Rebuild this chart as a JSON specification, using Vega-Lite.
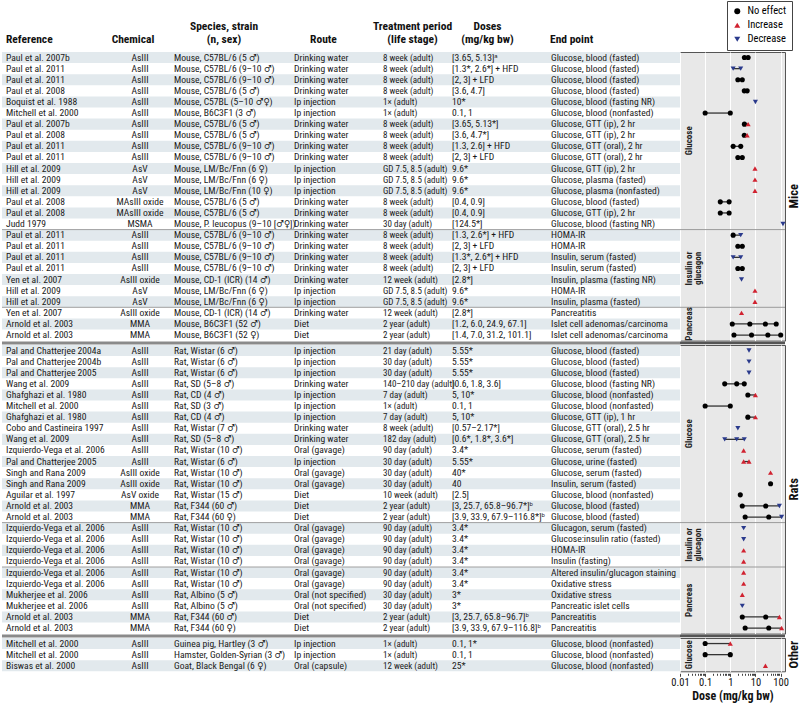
{
"$schema": "https://vega.github.io/schema/vega-lite/v6.json",
"padding": 0,
"background": "white",
"config": {
  "font": "Liberation Sans Narrow, Roboto Condensed, DejaVu Sans Condensed, Arial Narrow, sans-serif",
  "view": {"stroke": null},
  "text": {"fontSize": 9.6, "color": "#1a1a1a"},
  "title": {"fontSize": 11.5, "fontWeight": "bold", "color": "#111", "offset": 7, "lineHeight": 13, "frame": "group"}
},
"datasets": {
"rows": [
{"id":1,"grp":"Mice","sub":"Glucose","ref":"Paul et al. 2007b","chem":"AsIII","sp":"Mouse, C57BL/6 (5 ♂)","route":"Drinking water","per":"8 week (adult)","dose":"[3.65, 5.13]ᵃ","ep":"Glucose, blood (fasted)"},
{"id":2,"grp":"Mice","sub":"Glucose","ref":"Paul et al. 2011","chem":"AsIII","sp":"Mouse, C57BL/6 (9–10 ♂)","route":"Drinking water","per":"8 week (adult)","dose":"[1.3*, 2.6*] + HFD","ep":"Glucose, blood (fasted)"},
{"id":3,"grp":"Mice","sub":"Glucose","ref":"Paul et al. 2011","chem":"AsIII","sp":"Mouse, C57BL/6 (9–10 ♂)","route":"Drinking water","per":"8 week (adult)","dose":"[2, 3] + LFD","ep":"Glucose, blood (fasted)"},
{"id":4,"grp":"Mice","sub":"Glucose","ref":"Paul et al. 2008","chem":"AsIII","sp":"Mouse, C57BL/6 (5 ♂)","route":"Drinking water","per":"8 week (adult)","dose":"[3.6, 4.7]","ep":"Glucose, blood (fasted)"},
{"id":5,"grp":"Mice","sub":"Glucose","ref":"Boquist et al. 1988","chem":"AsIII","sp":"Mouse, C57BL (5–10 ♂♀)","route":"Ip injection","per":"1× (adult)","dose":"10*","ep":"Glucose, blood (fasting NR)"},
{"id":6,"grp":"Mice","sub":"Glucose","ref":"Mitchell et al. 2000","chem":"AsIII","sp":"Mouse, B6C3F1 (3 ♂)","route":"Ip injection","per":"1× (adult)","dose":"0.1, 1","ep":"Glucose, blood (nonfasted)"},
{"id":7,"grp":"Mice","sub":"Glucose","ref":"Paul et al. 2007b","chem":"AsIII","sp":"Mouse, C57BL/6 (5 ♂)","route":"Drinking water","per":"8 week (adult)","dose":"[3.65, 5.13*]","ep":"Glucose, GTT (ip), 2 hr"},
{"id":8,"grp":"Mice","sub":"Glucose","ref":"Paul et al. 2008","chem":"AsIII","sp":"Mouse, C57BL/6 (5 ♂)","route":"Drinking water","per":"8 week (adult)","dose":"[3.6, 4.7*]","ep":"Glucose, GTT (ip), 2 hr"},
{"id":9,"grp":"Mice","sub":"Glucose","ref":"Paul et al. 2011","chem":"AsIII","sp":"Mouse, C57BL/6 (9–10 ♂)","route":"Drinking water","per":"8 week (adult)","dose":"[1.3, 2.6] + HFD","ep":"Glucose, GTT (oral), 2 hr"},
{"id":10,"grp":"Mice","sub":"Glucose","ref":"Paul et al. 2011","chem":"AsIII","sp":"Mouse, C57BL/6 (9–10 ♂)","route":"Drinking water","per":"8 week (adult)","dose":"[2, 3] + LFD","ep":"Glucose, GTT (oral), 2 hr"},
{"id":11,"grp":"Mice","sub":"Glucose","ref":"Hill et al. 2009","chem":"AsV","sp":"Mouse, LM/Bc/Fnn (6 ♀)","route":"Ip injection","per":"GD 7.5, 8.5 (adult)","dose":"9.6*","ep":"Glucose, GTT (ip), 2 hr"},
{"id":12,"grp":"Mice","sub":"Glucose","ref":"Hill et al. 2009","chem":"AsV","sp":"Mouse, LM/Bc/Fnn (6 ♀)","route":"Ip injection","per":"GD 7.5, 8.5 (adult)","dose":"9.6*","ep":"Glucose, plasma (fasted)"},
{"id":13,"grp":"Mice","sub":"Glucose","ref":"Hill et al. 2009","chem":"AsV","sp":"Mouse, LM/Bc/Fnn (10 ♀)","route":"Ip injection","per":"GD 7.5, 8.5 (adult)","dose":"9.6*","ep":"Glucose, plasma (nonfasted)"},
{"id":14,"grp":"Mice","sub":"Glucose","ref":"Paul et al. 2008","chem":"MAsIII oxide","sp":"Mouse, C57BL/6 (5 ♂)","route":"Drinking water","per":"8 week (adult)","dose":"[0.4, 0.9]","ep":"Glucose, blood (fasted)"},
{"id":15,"grp":"Mice","sub":"Glucose","ref":"Paul et al. 2008","chem":"MAsIII oxide","sp":"Mouse, C57BL/6 (5 ♂)","route":"Drinking water","per":"8 week (adult)","dose":"[0.4, 0.9]","ep":"Glucose, GTT (ip), 2 hr"},
{"id":16,"grp":"Mice","sub":"Glucose","ref":"Judd 1979","chem":"MSMA","sp":"Mouse, P. leucopus (9–10 [♂♀])","route":"Drinking water","per":"30 day (adult)","dose":"[124.5*]","ep":"Glucose, blood (fasting NR)"},
{"id":17,"grp":"Mice","sub":"Insulin or\nglucagon","ref":"Paul et al. 2011","chem":"AsIII","sp":"Mouse, C57BL/6 (9–10 ♂)","route":"Drinking water","per":"8 week (adult)","dose":"[1.3, 2.6*] + HFD","ep":"HOMA-IR"},
{"id":18,"grp":"Mice","sub":"Insulin or\nglucagon","ref":"Paul et al. 2011","chem":"AsIII","sp":"Mouse, C57BL/6 (9–10 ♂)","route":"Drinking water","per":"8 week (adult)","dose":"[2, 3] + LFD","ep":"HOMA-IR"},
{"id":19,"grp":"Mice","sub":"Insulin or\nglucagon","ref":"Paul et al. 2011","chem":"AsIII","sp":"Mouse, C57BL/6 (9–10 ♂)","route":"Drinking water","per":"8 week (adult)","dose":"[1.3*, 2.6*] + HFD","ep":"Insulin, serum (fasted)"},
{"id":20,"grp":"Mice","sub":"Insulin or\nglucagon","ref":"Paul et al. 2011","chem":"AsIII","sp":"Mouse, C57BL/6 (9–10 ♂)","route":"Drinking water","per":"8 week (adult)","dose":"[2, 3] + LFD","ep":"Insulin, serum (fasted)"},
{"id":21,"grp":"Mice","sub":"Insulin or\nglucagon","ref":"Yen et al. 2007","chem":"AsIII oxide","sp":"Mouse, CD-1 (ICR) (14 ♂)","route":"Drinking water","per":"12 week (adult)","dose":"[2.8*]","ep":"Insulin, plasma (fasting NR)"},
{"id":22,"grp":"Mice","sub":"Insulin or\nglucagon","ref":"Hill et al. 2009","chem":"AsV","sp":"Mouse, LM/Bc/Fnn (6 ♀)","route":"Ip injection","per":"GD 7.5, 8.5 (adult)","dose":"9.6*","ep":"HOMA-IR"},
{"id":23,"grp":"Mice","sub":"Insulin or\nglucagon","ref":"Hill et al. 2009","chem":"AsV","sp":"Mouse, LM/Bc/Fnn (6 ♀)","route":"Ip injection","per":"GD 7.5, 8.5 (adult)","dose":"9.6*","ep":"Insulin, plasma (fasted)"},
{"id":24,"grp":"Mice","sub":"Pancreas","ref":"Yen et al. 2007","chem":"AsIII oxide","sp":"Mouse, CD-1 (ICR) (14 ♂)","route":"Drinking water","per":"12 week (adult)","dose":"[2.8*]","ep":"Pancreatitis"},
{"id":25,"grp":"Mice","sub":"Pancreas","ref":"Arnold et al. 2003","chem":"MMA","sp":"Mouse, B6C3F1 (52 ♂)","route":"Diet","per":"2 year (adult)","dose":"[1.2, 6.0, 24.9, 67.1]","ep":"Islet cell adenomas/carcinoma"},
{"id":26,"grp":"Mice","sub":"Pancreas","ref":"Arnold et al. 2003","chem":"MMA","sp":"Mouse, B6C3F1 (52 ♀)","route":"Diet","per":"2 year (adult)","dose":"[1.4, 7.0, 31.2, 101.1]","ep":"Islet cell adenomas/carcinoma"},
{"id":27,"grp":"Rats","sub":"Glucose","ref":"Pal and Chatterjee 2004a","chem":"AsIII","sp":"Rat, Wistar (6 ♂)","route":"Ip injection","per":"21 day (adult)","dose":"5.55*","ep":"Glucose, blood (fasted)"},
{"id":28,"grp":"Rats","sub":"Glucose","ref":"Pal and Chatterjee 2004b","chem":"AsIII","sp":"Rat, Wistar (6 ♂)","route":"Ip injection","per":"30 day (adult)","dose":"5.55*","ep":"Glucose, blood (fasted)"},
{"id":29,"grp":"Rats","sub":"Glucose","ref":"Pal and Chatterjee 2005","chem":"AsIII","sp":"Rat, Wistar (6 ♂)","route":"Ip injection","per":"30 day (adult)","dose":"5.55*","ep":"Glucose, blood (fasted)"},
{"id":30,"grp":"Rats","sub":"Glucose","ref":"Wang et al. 2009","chem":"AsIII","sp":"Rat, SD (5–8 ♂)","route":"Drinking water","per":"140–210 day (adult)","dose":"[0.6, 1.8, 3.6]","ep":"Glucose, blood (fasting NR)"},
{"id":31,"grp":"Rats","sub":"Glucose","ref":"Ghafghazi et al. 1980","chem":"AsIII","sp":"Rat, CD (4 ♂)","route":"Ip injection","per":"7 day (adult)","dose":"5, 10*","ep":"Glucose, blood (nonfasted)"},
{"id":32,"grp":"Rats","sub":"Glucose","ref":"Mitchell et al. 2000","chem":"AsIII","sp":"Rat, SD (3 ♂)","route":"Ip injection","per":"1× (adult)","dose":"0.1, 1","ep":"Glucose, blood (nonfasted)"},
{"id":33,"grp":"Rats","sub":"Glucose","ref":"Ghafghazi et al. 1980","chem":"AsIII","sp":"Rat, CD (4 ♂)","route":"Ip injection","per":"7 day (adult)","dose":"5, 10*","ep":"Glucose, GTT (ip), 1 hr"},
{"id":34,"grp":"Rats","sub":"Glucose","ref":"Cobo and Castineira 1997","chem":"AsIII","sp":"Rat, Wistar (7 ♂)","route":"Drinking water","per":"8 week (adult)","dose":"[0.57–2.17*]","ep":"Glucose, GTT (oral), 2.5 hr"},
{"id":35,"grp":"Rats","sub":"Glucose","ref":"Wang et al. 2009","chem":"AsIII","sp":"Rat, SD (5–8 ♂)","route":"Drinking water","per":"182 day (adult)","dose":"[0.6*, 1.8*, 3.6*]","ep":"Glucose, GTT (oral), 2.5 hr"},
{"id":36,"grp":"Rats","sub":"Glucose","ref":"Izquierdo-Vega et al. 2006","chem":"AsIII","sp":"Rat, Wistar (10 ♂)","route":"Oral (gavage)","per":"90 day (adult)","dose":"3.4*","ep":"Glucose, serum (fasted)"},
{"id":37,"grp":"Rats","sub":"Glucose","ref":"Pal and Chatterjee 2005","chem":"AsIII","sp":"Rat, Wistar (6 ♂)","route":"Ip injection","per":"30 day (adult)","dose":"5.55*","ep":"Glucose, urine (fasted)"},
{"id":38,"grp":"Rats","sub":"Glucose","ref":"Singh and Rana 2009","chem":"AsIII oxide","sp":"Rat, Wistar (10 ♂)","route":"Oral (gavage)","per":"30 day (adult)","dose":"40*","ep":"Glucose, serum (fasted)"},
{"id":39,"grp":"Rats","sub":"Glucose","ref":"Singh and Rana 2009","chem":"AsIII oxide","sp":"Rat, Wistar (10 ♂)","route":"Oral (gavage)","per":"30 day (adult)","dose":"40","ep":"Insulin, serum (fasted)"},
{"id":40,"grp":"Rats","sub":"Glucose","ref":"Aguilar et al. 1997","chem":"AsV oxide","sp":"Rat, Wistar (15 ♂)","route":"Diet","per":"10 week (adult)","dose":"[2.5]","ep":"Glucose, blood (nonfasted)"},
{"id":41,"grp":"Rats","sub":"Glucose","ref":"Arnold et al. 2003","chem":"MMA","sp":"Rat, F344 (60 ♂)","route":"Diet","per":"2 year (adult)","dose":"[3, 25.7, 65.8–96.7*]ᵇ","ep":"Glucose, blood (fasted)"},
{"id":42,"grp":"Rats","sub":"Glucose","ref":"Arnold et al. 2003","chem":"MMA","sp":"Rat, F344 (60 ♀)","route":"Diet","per":"2 year (adult)","dose":"[3.9, 33.9, 67.9–116.8*]ᵇ","ep":"Glucose, blood (fasted)"},
{"id":43,"grp":"Rats","sub":"Insulin or\nglucagon","ref":"Izquierdo-Vega et al. 2006","chem":"AsIII","sp":"Rat, Wistar (10 ♂)","route":"Oral (gavage)","per":"90 day (adult)","dose":"3.4*","ep":"Glucagon, serum (fasted)"},
{"id":44,"grp":"Rats","sub":"Insulin or\nglucagon","ref":"Izquierdo-Vega et al. 2006","chem":"AsIII","sp":"Rat, Wistar (10 ♂)","route":"Oral (gavage)","per":"90 day (adult)","dose":"3.4*","ep":"Glucose:insulin ratio (fasted)"},
{"id":45,"grp":"Rats","sub":"Insulin or\nglucagon","ref":"Izquierdo-Vega et al. 2006","chem":"AsIII","sp":"Rat, Wistar (10 ♂)","route":"Oral (gavage)","per":"90 day (adult)","dose":"3.4*","ep":"HOMA-IR"},
{"id":46,"grp":"Rats","sub":"Insulin or\nglucagon","ref":"Izquierdo-Vega et al. 2006","chem":"AsIII","sp":"Rat, Wistar (10 ♂)","route":"Oral (gavage)","per":"90 day (adult)","dose":"3.4*","ep":"Insulin (fasting)"},
{"id":47,"grp":"Rats","sub":"Pancreas","ref":"Izquierdo-Vega et al. 2006","chem":"AsIII","sp":"Rat, Wistar (10 ♂)","route":"Oral (gavage)","per":"90 day (adult)","dose":"3.4*","ep":"Altered insulin/glucagon staining"},
{"id":48,"grp":"Rats","sub":"Pancreas","ref":"Izquierdo-Vega et al. 2006","chem":"AsIII","sp":"Rat, Wistar (10 ♂)","route":"Oral (gavage)","per":"90 day (adult)","dose":"3.4*","ep":"Oxidative stress"},
{"id":49,"grp":"Rats","sub":"Pancreas","ref":"Mukherjee et al. 2006","chem":"AsIII","sp":"Rat, Albino (5 ♂)","route":"Oral (not specified)","per":"30 day (adult)","dose":"3*","ep":"Oxidative stress"},
{"id":50,"grp":"Rats","sub":"Pancreas","ref":"Mukherjee et al. 2006","chem":"AsIII","sp":"Rat, Albino (5 ♂)","route":"Oral (not specified)","per":"30 day (adult)","dose":"3*","ep":"Pancreatic islet cells"},
{"id":51,"grp":"Rats","sub":"Pancreas","ref":"Arnold et al. 2003","chem":"MMA","sp":"Rat, F344 (60 ♂)","route":"Diet","per":"2 year (adult)","dose":"[3, 25.7, 65.8–96.7]ᵇ","ep":"Pancreatitis"},
{"id":52,"grp":"Rats","sub":"Pancreas","ref":"Arnold et al. 2003","chem":"MMA","sp":"Rat, F344 (60 ♀)","route":"Diet","per":"2 year (adult)","dose":"[3.9, 33.9, 67.9–116.8]ᵇ","ep":"Pancreatitis"},
{"id":53,"grp":"Other","sub":"Glucose","ref":"Mitchell et al. 2000","chem":"AsIII","sp":"Guinea pig, Hartley (3 ♂)","route":"Ip injection","per":"1× (adult)","dose":"0.1, 1*","ep":"Glucose, blood (nonfasted)"},
{"id":54,"grp":"Other","sub":"Glucose","ref":"Mitchell et al. 2000","chem":"AsIII","sp":"Hamster, Golden-Syrian (3 ♂)","route":"Ip injection","per":"1× (adult)","dose":"0.1, 1","ep":"Glucose, blood (nonfasted)"},
{"id":55,"grp":"Other","sub":"Glucose","ref":"Biswas et al. 2000","chem":"AsIII","sp":"Goat, Black Bengal (6 ♀)","route":"Oral (capsule)","per":"12 week (adult)","dose":"25*","ep":"Glucose, blood (nonfasted)"}
],
"pts": [
{"id":1,"dose":3.65,"eff":"No effect"},{"id":1,"dose":5.13,"eff":"No effect"},
{"id":2,"dose":1.3,"eff":"Decrease"},{"id":2,"dose":2.6,"eff":"Decrease"},
{"id":3,"dose":2,"eff":"No effect"},{"id":3,"dose":3,"eff":"No effect"},
{"id":4,"dose":3.6,"eff":"No effect"},{"id":4,"dose":4.7,"eff":"No effect"},
{"id":5,"dose":10,"eff":"Decrease"},
{"id":6,"dose":0.1,"eff":"No effect"},{"id":6,"dose":1,"eff":"No effect"},
{"id":7,"dose":3.65,"eff":"No effect"},{"id":7,"dose":5.13,"eff":"Increase"},
{"id":8,"dose":3.6,"eff":"No effect"},{"id":8,"dose":4.7,"eff":"Increase"},
{"id":9,"dose":1.3,"eff":"No effect"},{"id":9,"dose":2.6,"eff":"No effect"},
{"id":10,"dose":2,"eff":"No effect"},{"id":10,"dose":3,"eff":"No effect"},
{"id":11,"dose":9.6,"eff":"Increase"},
{"id":12,"dose":9.6,"eff":"Increase"},
{"id":13,"dose":9.6,"eff":"Increase"},
{"id":14,"dose":0.4,"eff":"No effect"},{"id":14,"dose":0.9,"eff":"No effect"},
{"id":15,"dose":0.4,"eff":"No effect"},{"id":15,"dose":0.9,"eff":"No effect"},
{"id":16,"dose":124.5,"eff":"Decrease"},
{"id":17,"dose":1.3,"eff":"No effect"},{"id":17,"dose":2.6,"eff":"Decrease"},
{"id":18,"dose":2,"eff":"No effect"},{"id":18,"dose":3,"eff":"No effect"},
{"id":19,"dose":1.3,"eff":"Decrease"},{"id":19,"dose":2.6,"eff":"Decrease"},
{"id":20,"dose":2,"eff":"No effect"},{"id":20,"dose":3,"eff":"No effect"},
{"id":21,"dose":2.8,"eff":"Decrease"},
{"id":22,"dose":9.6,"eff":"Increase"},
{"id":23,"dose":9.6,"eff":"Increase"},
{"id":24,"dose":2.8,"eff":"Increase"},
{"id":25,"dose":1.2,"eff":"No effect"},{"id":25,"dose":6.0,"eff":"No effect"},{"id":25,"dose":24.9,"eff":"No effect"},{"id":25,"dose":67.1,"eff":"No effect"},
{"id":26,"dose":1.4,"eff":"No effect"},{"id":26,"dose":7.0,"eff":"No effect"},{"id":26,"dose":31.2,"eff":"No effect"},{"id":26,"dose":101.1,"eff":"No effect"},
{"id":27,"dose":5.55,"eff":"Decrease"},
{"id":28,"dose":5.55,"eff":"Decrease"},
{"id":29,"dose":5.55,"eff":"Decrease"},
{"id":30,"dose":0.6,"eff":"No effect"},{"id":30,"dose":1.8,"eff":"No effect"},{"id":30,"dose":3.6,"eff":"No effect"},
{"id":31,"dose":5,"eff":"No effect"},{"id":31,"dose":10,"eff":"Increase"},
{"id":32,"dose":0.1,"eff":"No effect"},{"id":32,"dose":1,"eff":"No effect"},
{"id":33,"dose":5,"eff":"No effect"},{"id":33,"dose":10,"eff":"Increase"},
{"id":34,"dose":2.0,"eff":"Decrease"},
{"id":35,"dose":0.6,"eff":"Decrease"},{"id":35,"dose":1.8,"eff":"Decrease"},{"id":35,"dose":3.6,"eff":"Decrease"},
{"id":36,"dose":3.4,"eff":"Increase"},
{"id":37,"dose":3.4,"eff":"Increase"},{"id":37,"dose":5.55,"eff":"Increase"},
{"id":38,"dose":40,"eff":"Increase"},
{"id":39,"dose":40,"eff":"No effect"},
{"id":40,"dose":2.5,"eff":"No effect"},
{"id":41,"dose":3,"eff":"No effect"},{"id":41,"dose":25.7,"eff":"No effect"},{"id":41,"dose":90,"eff":"Decrease"},
{"id":42,"dose":3.9,"eff":"No effect"},{"id":42,"dose":33.9,"eff":"No effect"},{"id":42,"dose":110,"eff":"Decrease"},
{"id":43,"dose":3.4,"eff":"Decrease"},
{"id":44,"dose":3.4,"eff":"Decrease"},
{"id":45,"dose":3.4,"eff":"Increase"},
{"id":46,"dose":3.4,"eff":"Increase"},
{"id":47,"dose":3.4,"eff":"Increase"},
{"id":48,"dose":3.4,"eff":"Increase"},
{"id":49,"dose":3,"eff":"Increase"},
{"id":50,"dose":3,"eff":"Decrease"},
{"id":51,"dose":3,"eff":"No effect"},{"id":51,"dose":25.7,"eff":"No effect"},{"id":51,"dose":90,"eff":"Increase"},
{"id":52,"dose":3.9,"eff":"No effect"},{"id":52,"dose":33.9,"eff":"No effect"},{"id":52,"dose":110,"eff":"Increase"},
{"id":53,"dose":0.1,"eff":"No effect"},{"id":53,"dose":1,"eff":"Increase"},
{"id":54,"dose":0.1,"eff":"No effect"},{"id":54,"dose":1,"eff":"No effect"},
{"id":55,"dose":25,"eff":"Increase"}
]
},
"columns": 9,
"spacing": {"row": 4, "column": 0},
"align": "each",
"bounds": "flush",
"resolve": {"scale": {"color": "independent", "shape": "independent"}},
"concat": [
{"data":{"name":"rows"},"title":{"text":"Reference","anchor":"start","dx":4},
 "transform":[{"filter":"datum.grp == 'Mice'"},{"joinaggregate":[{"op":"min","field":"id","as":"gfirst"}],"groupby":["grp"]},{"joinaggregate":[{"op":"min","field":"id","as":"sfirst"}],"groupby":["grp","sub"]}],
 "width":108,"height":{"step":11.1},"encoding":{"y":{"field":"id","type":"ordinal","axis":null}},
 "layer":[
  {"transform":[{"filter":"datum.id % 2 == 1"}],"mark":{"type":"rect","color":"#e2e9ed"}},
  {"transform":[{"filter":"datum.id == datum.sfirst && datum.id != datum.gfirst"}],"mark":{"type":"rule","color":"#a0a0a0"},"encoding":{"y":{"field":"id","type":"ordinal","bandPosition":0}}},
  {"mark":{"type":"text","align":"left","dx":4},"encoding":{"x":{"datum":0,"type":"quantitative","scale":{"domain":[0,1]},"axis":null},"text":{"field":"ref"}}}]},
{"data":{"name":"rows"},"title":{"text":"Chemical","anchor":"middle","dx":-7},
 "transform":[{"filter":"datum.grp == 'Mice'"},{"joinaggregate":[{"op":"min","field":"id","as":"gfirst"}],"groupby":["grp"]},{"joinaggregate":[{"op":"min","field":"id","as":"sfirst"}],"groupby":["grp","sub"]}],
 "width":60,"height":{"step":11.1},"encoding":{"y":{"field":"id","type":"ordinal","axis":null}},
 "layer":[
  {"transform":[{"filter":"datum.id % 2 == 1"}],"mark":{"type":"rect","color":"#e2e9ed"}},
  {"transform":[{"filter":"datum.id == datum.sfirst && datum.id != datum.gfirst"}],"mark":{"type":"rule","color":"#a0a0a0"},"encoding":{"y":{"field":"id","type":"ordinal","bandPosition":0}}},
  {"mark":{"type":"text","align":"center"},"encoding":{"x":{"datum":0.5,"type":"quantitative","scale":{"domain":[0,1]},"axis":null},"text":{"field":"chem"}}}]},
{"data":{"name":"rows"},"title":{"text":["Species, strain","(n, sex)"],"anchor":"middle","dx":-6},
 "transform":[{"filter":"datum.grp == 'Mice'"},{"joinaggregate":[{"op":"min","field":"id","as":"gfirst"}],"groupby":["grp"]},{"joinaggregate":[{"op":"min","field":"id","as":"sfirst"}],"groupby":["grp","sub"]}],
 "width":120,"height":{"step":11.1},"encoding":{"y":{"field":"id","type":"ordinal","axis":null}},
 "layer":[
  {"transform":[{"filter":"datum.id % 2 == 1"}],"mark":{"type":"rect","color":"#e2e9ed"}},
  {"transform":[{"filter":"datum.id == datum.sfirst && datum.id != datum.gfirst"}],"mark":{"type":"rule","color":"#a0a0a0"},"encoding":{"y":{"field":"id","type":"ordinal","bandPosition":0}}},
  {"mark":{"type":"text","align":"left","dx":4},"encoding":{"x":{"datum":0,"type":"quantitative","scale":{"domain":[0,1]},"axis":null},"text":{"field":"sp"}}}]},
{"data":{"name":"rows"},"title":{"text":"Route","anchor":"middle","dx":-11},
 "transform":[{"filter":"datum.grp == 'Mice'"},{"joinaggregate":[{"op":"min","field":"id","as":"gfirst"}],"groupby":["grp"]},{"joinaggregate":[{"op":"min","field":"id","as":"sfirst"}],"groupby":["grp","sub"]}],
 "width":89,"height":{"step":11.1},"encoding":{"y":{"field":"id","type":"ordinal","axis":null}},
 "layer":[
  {"transform":[{"filter":"datum.id % 2 == 1"}],"mark":{"type":"rect","color":"#e2e9ed"}},
  {"transform":[{"filter":"datum.id == datum.sfirst && datum.id != datum.gfirst"}],"mark":{"type":"rule","color":"#a0a0a0"},"encoding":{"y":{"field":"id","type":"ordinal","bandPosition":0}}},
  {"mark":{"type":"text","align":"left","dx":4},"encoding":{"x":{"datum":0,"type":"quantitative","scale":{"domain":[0,1]},"axis":null},"text":{"field":"route"}}}]},
{"data":{"name":"rows"},"title":{"text":["Treatment period","(life stage)"],"anchor":"middle","dx":-1},
 "transform":[{"filter":"datum.grp == 'Mice'"},{"joinaggregate":[{"op":"min","field":"id","as":"gfirst"}],"groupby":["grp"]},{"joinaggregate":[{"op":"min","field":"id","as":"sfirst"}],"groupby":["grp","sub"]}],
 "width":69,"height":{"step":11.1},"encoding":{"y":{"field":"id","type":"ordinal","axis":null}},
 "layer":[
  {"transform":[{"filter":"datum.id % 2 == 1"}],"mark":{"type":"rect","color":"#e2e9ed"}},
  {"transform":[{"filter":"datum.id == datum.sfirst && datum.id != datum.gfirst"}],"mark":{"type":"rule","color":"#a0a0a0"},"encoding":{"y":{"field":"id","type":"ordinal","bandPosition":0}}},
  {"mark":{"type":"text","align":"left","dx":4,"fontSize":9},"encoding":{"x":{"datum":0,"type":"quantitative","scale":{"domain":[0,1]},"axis":null},"text":{"field":"per"}}}]},
{"data":{"name":"rows"},"title":{"text":["Doses","(mg/kg bw)"],"anchor":"middle","dx":-10},
 "transform":[{"filter":"datum.grp == 'Mice'"},{"joinaggregate":[{"op":"min","field":"id","as":"gfirst"}],"groupby":["grp"]},{"joinaggregate":[{"op":"min","field":"id","as":"sfirst"}],"groupby":["grp","sub"]}],
 "width":99,"height":{"step":11.1},"encoding":{"y":{"field":"id","type":"ordinal","axis":null}},
 "layer":[
  {"transform":[{"filter":"datum.id % 2 == 1"}],"mark":{"type":"rect","color":"#e2e9ed"}},
  {"transform":[{"filter":"datum.id == datum.sfirst && datum.id != datum.gfirst"}],"mark":{"type":"rule","color":"#a0a0a0"},"encoding":{"y":{"field":"id","type":"ordinal","bandPosition":0}}},
  {"mark":{"type":"text","align":"left","dx":4},"encoding":{"x":{"datum":0,"type":"quantitative","scale":{"domain":[0,1]},"axis":null},"text":{"field":"dose"}}}]},
{"data":{"name":"rows"},"title":{"text":"End point","anchor":"start","dx":3},
 "transform":[{"filter":"datum.grp == 'Mice'"},{"joinaggregate":[{"op":"min","field":"id","as":"gfirst"}],"groupby":["grp"]},{"joinaggregate":[{"op":"min","field":"id","as":"sfirst"}],"groupby":["grp","sub"]}],
 "width":133,"height":{"step":11.1},"encoding":{"y":{"field":"id","type":"ordinal","axis":null}},
 "layer":[
  {"transform":[{"filter":"datum.id % 2 == 1"}],"mark":{"type":"rect","color":"#e2e9ed"}},
  {"transform":[{"filter":"datum.id == datum.sfirst && datum.id != datum.gfirst"}],"mark":{"type":"rule","color":"#a0a0a0"},"encoding":{"y":{"field":"id","type":"ordinal","bandPosition":0}}},
  {"mark":{"type":"text","align":"left","dx":4},"encoding":{"x":{"datum":0,"type":"quantitative","scale":{"domain":[0,1]},"axis":null},"text":{"field":"ep"}}}]},
{"data":{"name":"pts"},
 "transform":[{"lookup":"id","from":{"data":{"name":"rows"},"key":"id","fields":["grp","sub"]}},{"filter":"datum.grp == 'Mice'"}],
 "width":105,"height":{"step":11.1},"view":{"fill":"#e8e8e8","stroke":"#555555"},
 "encoding":{"y":{"field":"id","type":"ordinal","axis":null}},
 "layer":[
  {"transform":[{"aggregate":[{"op":"count","as":"k"}],"groupby":["grp","sub","id"]},{"joinaggregate":[{"op":"min","field":"id","as":"gfirst"}],"groupby":["grp"]},{"joinaggregate":[{"op":"min","field":"id","as":"sfirst"}],"groupby":["grp","sub"]},{"filter":"datum.id == datum.sfirst && datum.id != datum.gfirst"}],
   "mark":{"type":"rule","color":"#9a9a9a"},"encoding":{"y":{"field":"id","type":"ordinal","bandPosition":0}}},
  {"transform":[{"aggregate":[{"op":"min","field":"dose","as":"lo"},{"op":"max","field":"dose","as":"hi"}],"groupby":["grp","id"]},{"filter":"datum.hi > datum.lo"}],
   "mark":{"type":"rule","color":"#333333","strokeWidth":1.3},
   "encoding":{"x":{"field":"lo","type":"quantitative","scale":{"type":"log","domain":[0.01,150],"nice":false},"axis":{"values":[0.01,0.1,1,10,100],"grid":true,"gridColor":"#ffffff","labels":false,"ticks":false,"domain":false,"title":null}},"x2":{"field":"hi"}}},
  {"mark":{"type":"point","filled":true,"size":26,"opacity":1},
   "encoding":{"x":{"field":"dose","type":"quantitative","scale":{"type":"log","domain":[0.01,150],"nice":false},"axis":{"values":[0.01,0.1,1,10,100],"grid":true,"gridColor":"#ffffff","labels":false,"ticks":false,"domain":false,"title":null}},
    "color":{"field":"eff","type":"nominal","scale":{"domain":["No effect","Increase","Decrease"],"range":["#000000","#d12230","#2a3a8c"]},"legend":{"title":null,"orient":"none","legendX":47,"legendY":-51,"strokeColor":"#444","fillColor":"white","padding":5,"labelFontSize":10.5,"symbolSize":36,"rowPadding":3,"labelOffset":5}},
    "shape":{"field":"eff","type":"nominal","scale":{"domain":["No effect","Increase","Decrease"],"range":["circle","triangle-up","triangle-down"]},"legend":{"title":null,"orient":"none","legendX":47,"legendY":-51,"strokeColor":"#444","fillColor":"white","padding":5,"labelFontSize":10.5,"symbolSize":36,"rowPadding":3,"labelOffset":5}}}},
  {"transform":[{"aggregate":[{"op":"count","as":"k"}],"groupby":["grp","sub","id"]},{"joinaggregate":[{"op":"count","as":"n"}],"groupby":["grp","sub"]},{"window":[{"op":"row_number","as":"r"}],"groupby":["grp","sub"],"sort":[{"field":"id"}]},{"filter":"datum.n % 2 == 1 && datum.r == (datum.n + 1) / 2"}],
   "mark":{"type":"text","angle":270,"align":"center","baseline":"middle","fontSize":9,"fontWeight":"bold","color":"#222","lineBreak":"\n","lineHeight":9},
   "encoding":{"x":{"datum":0.022,"type":"quantitative"},"text":{"field":"sub"}}},
  {"transform":[{"aggregate":[{"op":"count","as":"k"}],"groupby":["grp","sub","id"]},{"joinaggregate":[{"op":"count","as":"n"}],"groupby":["grp","sub"]},{"window":[{"op":"row_number","as":"r"}],"groupby":["grp","sub"],"sort":[{"field":"id"}]},{"filter":"datum.n % 2 == 0 && datum.r == datum.n / 2 + 1"}],
   "mark":{"type":"text","angle":270,"align":"center","baseline":"middle","fontSize":9,"fontWeight":"bold","color":"#222","lineBreak":"\n","lineHeight":9},
   "encoding":{"x":{"datum":0.022,"type":"quantitative"},"y":{"field":"id","type":"ordinal","bandPosition":0},"text":{"field":"sub"}}}]},
{"data":{"name":"rows"},
 "transform":[{"filter":"datum.grp == 'Mice'"},{"joinaggregate":[{"op":"count","as":"n"}],"groupby":["grp"]},{"window":[{"op":"row_number","as":"r"}],"groupby":["grp"],"sort":[{"field":"id"}]}],
 "width":17,"height":{"step":11.1},"encoding":{"y":{"field":"id","type":"ordinal","axis":null}},
 "layer":[
  {"mark":{"type":"rect","opacity":0}},
  {"transform":[{"filter":"datum.n % 2 == 0 && datum.r == datum.n / 2 + 1"}],"mark":{"type":"text","angle":270,"align":"center","baseline":"middle","fontSize":12.5,"fontWeight":"bold","color":"#111"},
   "encoding":{"x":{"datum":0.5,"type":"quantitative","scale":{"domain":[0,1]},"axis":null},"y":{"field":"id","type":"ordinal","bandPosition":0},"text":{"field":"grp"}}},
  {"transform":[{"filter":"datum.n % 2 == 1 && datum.r == (datum.n + 1) / 2"}],"mark":{"type":"text","angle":270,"align":"center","baseline":"middle","fontSize":12.5,"fontWeight":"bold","color":"#111"},
   "encoding":{"x":{"datum":0.5,"type":"quantitative","scale":{"domain":[0,1]},"axis":null},"text":{"field":"grp"}}}]},

{"data":{"name":"rows"},
 "transform":[{"filter":"datum.grp == 'Rats'"},{"joinaggregate":[{"op":"min","field":"id","as":"gfirst"}],"groupby":["grp"]},{"joinaggregate":[{"op":"min","field":"id","as":"sfirst"}],"groupby":["grp","sub"]}],
 "width":108,"height":{"step":11.1},"encoding":{"y":{"field":"id","type":"ordinal","axis":null}},
 "layer":[
  {"transform":[{"filter":"datum.id % 2 == 1"}],"mark":{"type":"rect","color":"#e2e9ed"}},
  {"transform":[{"filter":"datum.id == datum.sfirst && datum.id != datum.gfirst"}],"mark":{"type":"rule","color":"#a0a0a0"},"encoding":{"y":{"field":"id","type":"ordinal","bandPosition":0}}},
  {"transform":[{"filter":"datum.id == datum.gfirst"}],"mark":{"type":"rule","color":"#8a8a8a","strokeWidth":3,"yOffset":-2},"encoding":{"y":{"field":"id","type":"ordinal","bandPosition":0}}},
  {"mark":{"type":"text","align":"left","dx":4},"encoding":{"x":{"datum":0,"type":"quantitative","scale":{"domain":[0,1]},"axis":null},"text":{"field":"ref"}}}]},
{"data":{"name":"rows"},
 "transform":[{"filter":"datum.grp == 'Rats'"},{"joinaggregate":[{"op":"min","field":"id","as":"gfirst"}],"groupby":["grp"]},{"joinaggregate":[{"op":"min","field":"id","as":"sfirst"}],"groupby":["grp","sub"]}],
 "width":60,"height":{"step":11.1},"encoding":{"y":{"field":"id","type":"ordinal","axis":null}},
 "layer":[
  {"transform":[{"filter":"datum.id % 2 == 1"}],"mark":{"type":"rect","color":"#e2e9ed"}},
  {"transform":[{"filter":"datum.id == datum.sfirst && datum.id != datum.gfirst"}],"mark":{"type":"rule","color":"#a0a0a0"},"encoding":{"y":{"field":"id","type":"ordinal","bandPosition":0}}},
  {"transform":[{"filter":"datum.id == datum.gfirst"}],"mark":{"type":"rule","color":"#8a8a8a","strokeWidth":3,"yOffset":-2},"encoding":{"y":{"field":"id","type":"ordinal","bandPosition":0}}},
  {"mark":{"type":"text","align":"center"},"encoding":{"x":{"datum":0.5,"type":"quantitative","scale":{"domain":[0,1]},"axis":null},"text":{"field":"chem"}}}]},
{"data":{"name":"rows"},
 "transform":[{"filter":"datum.grp == 'Rats'"},{"joinaggregate":[{"op":"min","field":"id","as":"gfirst"}],"groupby":["grp"]},{"joinaggregate":[{"op":"min","field":"id","as":"sfirst"}],"groupby":["grp","sub"]}],
 "width":120,"height":{"step":11.1},"encoding":{"y":{"field":"id","type":"ordinal","axis":null}},
 "layer":[
  {"transform":[{"filter":"datum.id % 2 == 1"}],"mark":{"type":"rect","color":"#e2e9ed"}},
  {"transform":[{"filter":"datum.id == datum.sfirst && datum.id != datum.gfirst"}],"mark":{"type":"rule","color":"#a0a0a0"},"encoding":{"y":{"field":"id","type":"ordinal","bandPosition":0}}},
  {"transform":[{"filter":"datum.id == datum.gfirst"}],"mark":{"type":"rule","color":"#8a8a8a","strokeWidth":3,"yOffset":-2},"encoding":{"y":{"field":"id","type":"ordinal","bandPosition":0}}},
  {"mark":{"type":"text","align":"left","dx":4},"encoding":{"x":{"datum":0,"type":"quantitative","scale":{"domain":[0,1]},"axis":null},"text":{"field":"sp"}}}]},
{"data":{"name":"rows"},
 "transform":[{"filter":"datum.grp == 'Rats'"},{"joinaggregate":[{"op":"min","field":"id","as":"gfirst"}],"groupby":["grp"]},{"joinaggregate":[{"op":"min","field":"id","as":"sfirst"}],"groupby":["grp","sub"]}],
 "width":89,"height":{"step":11.1},"encoding":{"y":{"field":"id","type":"ordinal","axis":null}},
 "layer":[
  {"transform":[{"filter":"datum.id % 2 == 1"}],"mark":{"type":"rect","color":"#e2e9ed"}},
  {"transform":[{"filter":"datum.id == datum.sfirst && datum.id != datum.gfirst"}],"mark":{"type":"rule","color":"#a0a0a0"},"encoding":{"y":{"field":"id","type":"ordinal","bandPosition":0}}},
  {"transform":[{"filter":"datum.id == datum.gfirst"}],"mark":{"type":"rule","color":"#8a8a8a","strokeWidth":3,"yOffset":-2},"encoding":{"y":{"field":"id","type":"ordinal","bandPosition":0}}},
  {"mark":{"type":"text","align":"left","dx":4},"encoding":{"x":{"datum":0,"type":"quantitative","scale":{"domain":[0,1]},"axis":null},"text":{"field":"route"}}}]},
{"data":{"name":"rows"},
 "transform":[{"filter":"datum.grp == 'Rats'"},{"joinaggregate":[{"op":"min","field":"id","as":"gfirst"}],"groupby":["grp"]},{"joinaggregate":[{"op":"min","field":"id","as":"sfirst"}],"groupby":["grp","sub"]}],
 "width":69,"height":{"step":11.1},"encoding":{"y":{"field":"id","type":"ordinal","axis":null}},
 "layer":[
  {"transform":[{"filter":"datum.id % 2 == 1"}],"mark":{"type":"rect","color":"#e2e9ed"}},
  {"transform":[{"filter":"datum.id == datum.sfirst && datum.id != datum.gfirst"}],"mark":{"type":"rule","color":"#a0a0a0"},"encoding":{"y":{"field":"id","type":"ordinal","bandPosition":0}}},
  {"transform":[{"filter":"datum.id == datum.gfirst"}],"mark":{"type":"rule","color":"#8a8a8a","strokeWidth":3,"yOffset":-2},"encoding":{"y":{"field":"id","type":"ordinal","bandPosition":0}}},
  {"mark":{"type":"text","align":"left","dx":4,"fontSize":9},"encoding":{"x":{"datum":0,"type":"quantitative","scale":{"domain":[0,1]},"axis":null},"text":{"field":"per"}}}]},
{"data":{"name":"rows"},
 "transform":[{"filter":"datum.grp == 'Rats'"},{"joinaggregate":[{"op":"min","field":"id","as":"gfirst"}],"groupby":["grp"]},{"joinaggregate":[{"op":"min","field":"id","as":"sfirst"}],"groupby":["grp","sub"]}],
 "width":99,"height":{"step":11.1},"encoding":{"y":{"field":"id","type":"ordinal","axis":null}},
 "layer":[
  {"transform":[{"filter":"datum.id % 2 == 1"}],"mark":{"type":"rect","color":"#e2e9ed"}},
  {"transform":[{"filter":"datum.id == datum.sfirst && datum.id != datum.gfirst"}],"mark":{"type":"rule","color":"#a0a0a0"},"encoding":{"y":{"field":"id","type":"ordinal","bandPosition":0}}},
  {"transform":[{"filter":"datum.id == datum.gfirst"}],"mark":{"type":"rule","color":"#8a8a8a","strokeWidth":3,"yOffset":-2},"encoding":{"y":{"field":"id","type":"ordinal","bandPosition":0}}},
  {"mark":{"type":"text","align":"left","dx":4},"encoding":{"x":{"datum":0,"type":"quantitative","scale":{"domain":[0,1]},"axis":null},"text":{"field":"dose"}}}]},
{"data":{"name":"rows"},
 "transform":[{"filter":"datum.grp == 'Rats'"},{"joinaggregate":[{"op":"min","field":"id","as":"gfirst"}],"groupby":["grp"]},{"joinaggregate":[{"op":"min","field":"id","as":"sfirst"}],"groupby":["grp","sub"]}],
 "width":133,"height":{"step":11.1},"encoding":{"y":{"field":"id","type":"ordinal","axis":null}},
 "layer":[
  {"transform":[{"filter":"datum.id % 2 == 1"}],"mark":{"type":"rect","color":"#e2e9ed"}},
  {"transform":[{"filter":"datum.id == datum.sfirst && datum.id != datum.gfirst"}],"mark":{"type":"rule","color":"#a0a0a0"},"encoding":{"y":{"field":"id","type":"ordinal","bandPosition":0}}},
  {"transform":[{"filter":"datum.id == datum.gfirst"}],"mark":{"type":"rule","color":"#8a8a8a","strokeWidth":3,"yOffset":-2},"encoding":{"y":{"field":"id","type":"ordinal","bandPosition":0}}},
  {"mark":{"type":"text","align":"left","dx":4},"encoding":{"x":{"datum":0,"type":"quantitative","scale":{"domain":[0,1]},"axis":null},"text":{"field":"ep"}}}]},
{"data":{"name":"pts"},
 "transform":[{"lookup":"id","from":{"data":{"name":"rows"},"key":"id","fields":["grp","sub"]}},{"filter":"datum.grp == 'Rats'"}],
 "width":105,"height":{"step":11.1},"view":{"fill":"#e8e8e8","stroke":"#555555"},
 "encoding":{"y":{"field":"id","type":"ordinal","axis":null}},
 "layer":[
  {"transform":[{"aggregate":[{"op":"count","as":"k"}],"groupby":["grp","sub","id"]},{"joinaggregate":[{"op":"min","field":"id","as":"gfirst"}],"groupby":["grp"]},{"joinaggregate":[{"op":"min","field":"id","as":"sfirst"}],"groupby":["grp","sub"]},{"filter":"datum.id == datum.sfirst && datum.id != datum.gfirst"}],
   "mark":{"type":"rule","color":"#9a9a9a"},"encoding":{"y":{"field":"id","type":"ordinal","bandPosition":0}}},
  {"transform":[{"aggregate":[{"op":"count","as":"k"}],"groupby":["grp","id"]},{"joinaggregate":[{"op":"min","field":"id","as":"gfirst"}],"groupby":["grp"]},{"filter":"datum.id == datum.gfirst"}],
   "mark":{"type":"rule","color":"#555555","strokeWidth":2.5,"yOffset":-2},"encoding":{"y":{"field":"id","type":"ordinal","bandPosition":0}}},
  {"transform":[{"aggregate":[{"op":"min","field":"dose","as":"lo"},{"op":"max","field":"dose","as":"hi"}],"groupby":["grp","id"]},{"filter":"datum.hi > datum.lo"}],
   "mark":{"type":"rule","color":"#333333","strokeWidth":1.3},
   "encoding":{"x":{"field":"lo","type":"quantitative","scale":{"type":"log","domain":[0.01,150],"nice":false},"axis":{"values":[0.01,0.1,1,10,100],"grid":true,"gridColor":"#ffffff","labels":false,"ticks":false,"domain":false,"title":null}},"x2":{"field":"hi"}}},
  {"mark":{"type":"point","filled":true,"size":26,"opacity":1},
   "encoding":{"x":{"field":"dose","type":"quantitative","scale":{"type":"log","domain":[0.01,150],"nice":false},"axis":{"values":[0.01,0.1,1,10,100],"grid":true,"gridColor":"#ffffff","labels":false,"ticks":false,"domain":false,"title":null}},
    "color":{"field":"eff","type":"nominal","scale":{"domain":["No effect","Increase","Decrease"],"range":["#000000","#d12230","#2a3a8c"]},"legend":null},
    "shape":{"field":"eff","type":"nominal","scale":{"domain":["No effect","Increase","Decrease"],"range":["circle","triangle-up","triangle-down"]},"legend":null}}},
  {"transform":[{"aggregate":[{"op":"count","as":"k"}],"groupby":["grp","sub","id"]},{"joinaggregate":[{"op":"count","as":"n"}],"groupby":["grp","sub"]},{"window":[{"op":"row_number","as":"r"}],"groupby":["grp","sub"],"sort":[{"field":"id"}]},{"filter":"datum.n % 2 == 1 && datum.r == (datum.n + 1) / 2"}],
   "mark":{"type":"text","angle":270,"align":"center","baseline":"middle","fontSize":9,"fontWeight":"bold","color":"#222","lineBreak":"\n","lineHeight":9},
   "encoding":{"x":{"datum":0.022,"type":"quantitative"},"text":{"field":"sub"}}},
  {"transform":[{"aggregate":[{"op":"count","as":"k"}],"groupby":["grp","sub","id"]},{"joinaggregate":[{"op":"count","as":"n"}],"groupby":["grp","sub"]},{"window":[{"op":"row_number","as":"r"}],"groupby":["grp","sub"],"sort":[{"field":"id"}]},{"filter":"datum.n % 2 == 0 && datum.r == datum.n / 2 + 1"}],
   "mark":{"type":"text","angle":270,"align":"center","baseline":"middle","fontSize":9,"fontWeight":"bold","color":"#222","lineBreak":"\n","lineHeight":9},
   "encoding":{"x":{"datum":0.022,"type":"quantitative"},"y":{"field":"id","type":"ordinal","bandPosition":0},"text":{"field":"sub"}}}]},
{"data":{"name":"rows"},
 "transform":[{"filter":"datum.grp == 'Rats'"},{"joinaggregate":[{"op":"count","as":"n"}],"groupby":["grp"]},{"window":[{"op":"row_number","as":"r"}],"groupby":["grp"],"sort":[{"field":"id"}]}],
 "width":17,"height":{"step":11.1},"encoding":{"y":{"field":"id","type":"ordinal","axis":null}},
 "layer":[
  {"mark":{"type":"rect","opacity":0}},
  {"transform":[{"filter":"datum.n % 2 == 0 && datum.r == datum.n / 2 + 1"}],"mark":{"type":"text","angle":270,"align":"center","baseline":"middle","fontSize":12.5,"fontWeight":"bold","color":"#111"},
   "encoding":{"x":{"datum":0.5,"type":"quantitative","scale":{"domain":[0,1]},"axis":null},"y":{"field":"id","type":"ordinal","bandPosition":0},"text":{"field":"grp"}}},
  {"transform":[{"filter":"datum.n % 2 == 1 && datum.r == (datum.n + 1) / 2"}],"mark":{"type":"text","angle":270,"align":"center","baseline":"middle","fontSize":12.5,"fontWeight":"bold","color":"#111"},
   "encoding":{"x":{"datum":0.5,"type":"quantitative","scale":{"domain":[0,1]},"axis":null},"text":{"field":"grp"}}}]},

{"data":{"name":"rows"},
 "transform":[{"filter":"datum.grp == 'Other'"},{"joinaggregate":[{"op":"min","field":"id","as":"gfirst"}],"groupby":["grp"]}],
 "width":108,"height":{"step":11.1},"encoding":{"y":{"field":"id","type":"ordinal","axis":null}},
 "layer":[
  {"transform":[{"filter":"datum.id % 2 == 1"}],"mark":{"type":"rect","color":"#e2e9ed"}},
  {"transform":[{"filter":"datum.id == datum.gfirst"}],"mark":{"type":"rule","color":"#8a8a8a","strokeWidth":3,"yOffset":-2},"encoding":{"y":{"field":"id","type":"ordinal","bandPosition":0}}},
  {"mark":{"type":"text","align":"left","dx":4},"encoding":{"x":{"datum":0,"type":"quantitative","scale":{"domain":[0,1]},"axis":null},"text":{"field":"ref"}}}]},
{"data":{"name":"rows"},
 "transform":[{"filter":"datum.grp == 'Other'"},{"joinaggregate":[{"op":"min","field":"id","as":"gfirst"}],"groupby":["grp"]}],
 "width":60,"height":{"step":11.1},"encoding":{"y":{"field":"id","type":"ordinal","axis":null}},
 "layer":[
  {"transform":[{"filter":"datum.id % 2 == 1"}],"mark":{"type":"rect","color":"#e2e9ed"}},
  {"transform":[{"filter":"datum.id == datum.gfirst"}],"mark":{"type":"rule","color":"#8a8a8a","strokeWidth":3,"yOffset":-2},"encoding":{"y":{"field":"id","type":"ordinal","bandPosition":0}}},
  {"mark":{"type":"text","align":"center"},"encoding":{"x":{"datum":0.5,"type":"quantitative","scale":{"domain":[0,1]},"axis":null},"text":{"field":"chem"}}}]},
{"data":{"name":"rows"},
 "transform":[{"filter":"datum.grp == 'Other'"},{"joinaggregate":[{"op":"min","field":"id","as":"gfirst"}],"groupby":["grp"]}],
 "width":120,"height":{"step":11.1},"encoding":{"y":{"field":"id","type":"ordinal","axis":null}},
 "layer":[
  {"transform":[{"filter":"datum.id % 2 == 1"}],"mark":{"type":"rect","color":"#e2e9ed"}},
  {"transform":[{"filter":"datum.id == datum.gfirst"}],"mark":{"type":"rule","color":"#8a8a8a","strokeWidth":3,"yOffset":-2},"encoding":{"y":{"field":"id","type":"ordinal","bandPosition":0}}},
  {"mark":{"type":"text","align":"left","dx":4},"encoding":{"x":{"datum":0,"type":"quantitative","scale":{"domain":[0,1]},"axis":null},"text":{"field":"sp"}}}]},
{"data":{"name":"rows"},
 "transform":[{"filter":"datum.grp == 'Other'"},{"joinaggregate":[{"op":"min","field":"id","as":"gfirst"}],"groupby":["grp"]}],
 "width":89,"height":{"step":11.1},"encoding":{"y":{"field":"id","type":"ordinal","axis":null}},
 "layer":[
  {"transform":[{"filter":"datum.id % 2 == 1"}],"mark":{"type":"rect","color":"#e2e9ed"}},
  {"transform":[{"filter":"datum.id == datum.gfirst"}],"mark":{"type":"rule","color":"#8a8a8a","strokeWidth":3,"yOffset":-2},"encoding":{"y":{"field":"id","type":"ordinal","bandPosition":0}}},
  {"mark":{"type":"text","align":"left","dx":4},"encoding":{"x":{"datum":0,"type":"quantitative","scale":{"domain":[0,1]},"axis":null},"text":{"field":"route"}}}]},
{"data":{"name":"rows"},
 "transform":[{"filter":"datum.grp == 'Other'"},{"joinaggregate":[{"op":"min","field":"id","as":"gfirst"}],"groupby":["grp"]}],
 "width":69,"height":{"step":11.1},"encoding":{"y":{"field":"id","type":"ordinal","axis":null}},
 "layer":[
  {"transform":[{"filter":"datum.id % 2 == 1"}],"mark":{"type":"rect","color":"#e2e9ed"}},
  {"transform":[{"filter":"datum.id == datum.gfirst"}],"mark":{"type":"rule","color":"#8a8a8a","strokeWidth":3,"yOffset":-2},"encoding":{"y":{"field":"id","type":"ordinal","bandPosition":0}}},
  {"mark":{"type":"text","align":"left","dx":4,"fontSize":9},"encoding":{"x":{"datum":0,"type":"quantitative","scale":{"domain":[0,1]},"axis":null},"text":{"field":"per"}}}]},
{"data":{"name":"rows"},
 "transform":[{"filter":"datum.grp == 'Other'"},{"joinaggregate":[{"op":"min","field":"id","as":"gfirst"}],"groupby":["grp"]}],
 "width":99,"height":{"step":11.1},"encoding":{"y":{"field":"id","type":"ordinal","axis":null}},
 "layer":[
  {"transform":[{"filter":"datum.id % 2 == 1"}],"mark":{"type":"rect","color":"#e2e9ed"}},
  {"transform":[{"filter":"datum.id == datum.gfirst"}],"mark":{"type":"rule","color":"#8a8a8a","strokeWidth":3,"yOffset":-2},"encoding":{"y":{"field":"id","type":"ordinal","bandPosition":0}}},
  {"mark":{"type":"text","align":"left","dx":4},"encoding":{"x":{"datum":0,"type":"quantitative","scale":{"domain":[0,1]},"axis":null},"text":{"field":"dose"}}}]},
{"data":{"name":"rows"},
 "transform":[{"filter":"datum.grp == 'Other'"},{"joinaggregate":[{"op":"min","field":"id","as":"gfirst"}],"groupby":["grp"]}],
 "width":133,"height":{"step":11.1},"encoding":{"y":{"field":"id","type":"ordinal","axis":null}},
 "layer":[
  {"transform":[{"filter":"datum.id % 2 == 1"}],"mark":{"type":"rect","color":"#e2e9ed"}},
  {"transform":[{"filter":"datum.id == datum.gfirst"}],"mark":{"type":"rule","color":"#8a8a8a","strokeWidth":3,"yOffset":-2},"encoding":{"y":{"field":"id","type":"ordinal","bandPosition":0}}},
  {"mark":{"type":"text","align":"left","dx":4},"encoding":{"x":{"datum":0,"type":"quantitative","scale":{"domain":[0,1]},"axis":null},"text":{"field":"ep"}}}]},
{"data":{"name":"pts"},
 "transform":[{"lookup":"id","from":{"data":{"name":"rows"},"key":"id","fields":["grp","sub"]}},{"filter":"datum.grp == 'Other'"}],
 "width":105,"height":{"step":11.1},"view":{"fill":"#e8e8e8","stroke":"#555555"},
 "encoding":{"y":{"field":"id","type":"ordinal","axis":null}},
 "resolve":{"axis":{"x":"independent"}},
 "layer":[
  {"transform":[{"aggregate":[{"op":"count","as":"k"}],"groupby":["grp","id"]},{"joinaggregate":[{"op":"min","field":"id","as":"gfirst"}],"groupby":["grp"]},{"filter":"datum.id == datum.gfirst"}],
   "mark":{"type":"rule","color":"#555555","strokeWidth":2.5,"yOffset":-2},"encoding":{"y":{"field":"id","type":"ordinal","bandPosition":0}}},
  {"transform":[{"aggregate":[{"op":"min","field":"dose","as":"lo"},{"op":"max","field":"dose","as":"hi"}],"groupby":["grp","id"]},{"filter":"datum.hi > datum.lo"}],
   "mark":{"type":"rule","color":"#333333","strokeWidth":1.3},
   "encoding":{"x":{"field":"lo","type":"quantitative","scale":{"type":"log","domain":[0.01,150],"nice":false},
     "axis":{"orient":"bottom","values":[0.01,0.1,1,10,100],"format":"~g","grid":true,"gridColor":"#ffffff","gridWidth":1,"domain":false,"tickColor":"#444","tickSize":3,"offset":2,"labelFontSize":10.5,"labelColor":"#111","labelFlush":false,"labelPadding":1,"title":"Dose (mg/kg bw)","titleFontSize":12,"titleFontWeight":"bold","titleColor":"#111","titlePadding":3}},"x2":{"field":"hi"}}},
  {"mark":{"type":"point","filled":true,"size":26,"opacity":1},
   "encoding":{"x":{"field":"dose","type":"quantitative","scale":{"type":"log","domain":[0.01,150],"nice":false},
     "axis":{"orient":"bottom","values":[0.02,0.03,0.04,0.05,0.06,0.07,0.08,0.09,0.2,0.3,0.4,0.5,0.6,0.7,0.8,0.9,2,3,4,5,6,7,8,9,20,30,40,50,60,70,80,90],"labels":false,"grid":false,"domain":false,"tickColor":"#444","tickSize":2,"offset":2,"title":null}},
    "color":{"field":"eff","type":"nominal","scale":{"domain":["No effect","Increase","Decrease"],"range":["#000000","#d12230","#2a3a8c"]},"legend":null},
    "shape":{"field":"eff","type":"nominal","scale":{"domain":["No effect","Increase","Decrease"],"range":["circle","triangle-up","triangle-down"]},"legend":null}}},
  {"transform":[{"aggregate":[{"op":"count","as":"k"}],"groupby":["grp","sub","id"]},{"joinaggregate":[{"op":"count","as":"n"}],"groupby":["grp","sub"]},{"window":[{"op":"row_number","as":"r"}],"groupby":["grp","sub"],"sort":[{"field":"id"}]},{"filter":"datum.n % 2 == 1 && datum.r == (datum.n + 1) / 2"}],
   "mark":{"type":"text","angle":270,"align":"center","baseline":"middle","fontSize":9,"fontWeight":"bold","color":"#222","lineBreak":"\n","lineHeight":9},
   "encoding":{"text":{"field":"sub"},"x":{"datum":0.022,"type":"quantitative","axis":null}}}]},
{"data":{"name":"rows"},
 "transform":[{"filter":"datum.grp == 'Other'"},{"joinaggregate":[{"op":"count","as":"n"}],"groupby":["grp"]},{"window":[{"op":"row_number","as":"r"}],"groupby":["grp"],"sort":[{"field":"id"}]}],
 "width":17,"height":{"step":11.1},"encoding":{"y":{"field":"id","type":"ordinal","axis":null}},
 "layer":[
  {"mark":{"type":"rect","opacity":0}},
  {"transform":[{"filter":"datum.n % 2 == 1 && datum.r == (datum.n + 1) / 2"}],"mark":{"type":"text","angle":270,"align":"center","baseline":"middle","fontSize":12.5,"fontWeight":"bold","color":"#111"},
   "encoding":{"x":{"datum":0.5,"type":"quantitative","scale":{"domain":[0,1]},"axis":null},"text":{"field":"grp"}}}]}
]
}
